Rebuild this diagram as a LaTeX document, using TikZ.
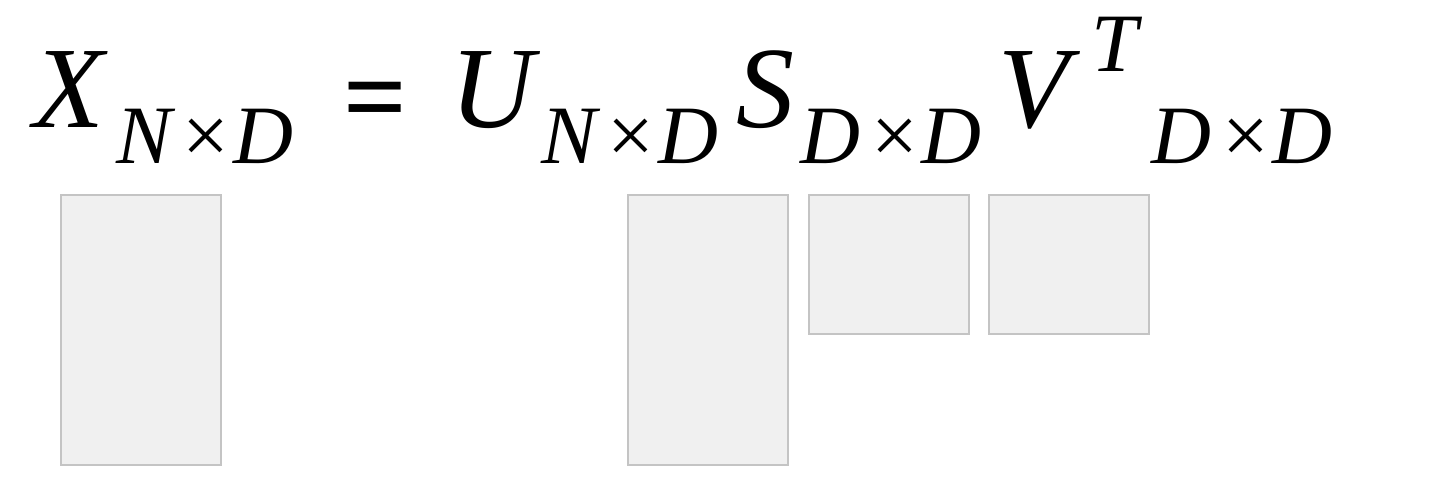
\documentclass[tikz,border=0pt]{standalone}
\usepackage{fontspec}
\setmainfont{Liberation Serif}
\definecolor{boxfill}{HTML}{F0F0F0}
\definecolor{boxline}{HTML}{C4C4C4}
\newcommand{\tms}{\hspace{11pt}{\upshape ×}\hspace{4pt}}
\begin{document}
\begin{tikzpicture}[x=1pt,y=-1pt,
  mat/.style={draw=boxline,fill=boxfill,line width=1.5pt},
  big/.style={anchor=base west,inner sep=0pt,font=\fontsize{116}{130}\selectfont\itshape},
  sub/.style={anchor=base west,inner sep=0pt,font=\fontsize{83}{95}\selectfont\itshape}]
\useasboundingbox (0,0) rectangle (1430,480);
% matrices
\draw[mat] (61,195) rectangle (221,465) coordinate (xbox);
\draw[mat] (628,195) rectangle (788,465) coordinate (ubox);
\draw[mat] (809,195) rectangle (969,334) coordinate (sbox);
\draw[mat] (989,195) rectangle (1149,334) coordinate (vbox);
% equation
\node[big] (X) at (33,127) {X};
\node[sub] (Xs) at (116,163) {N\tms D};
\node[anchor=base west,inner sep=0pt,font=\fontsize{112}{120}\selectfont\bfseries] (eq) at (343,134) {=};
\node[big] (U) at (450,127) {U};
\node[sub] (Us) at (541,163) {N\tms D};
\node[big] (S) at (736,127) {S};
\node[sub] (Ss) at (800,163) {D\tms D};
\node[big] (V) at (998,127) {V};
\node[sub] (Vt) at (1091,71) {T};
\node[sub] (Vs) at (1151,163) {D\tms D};
\end{tikzpicture}
\end{document}
